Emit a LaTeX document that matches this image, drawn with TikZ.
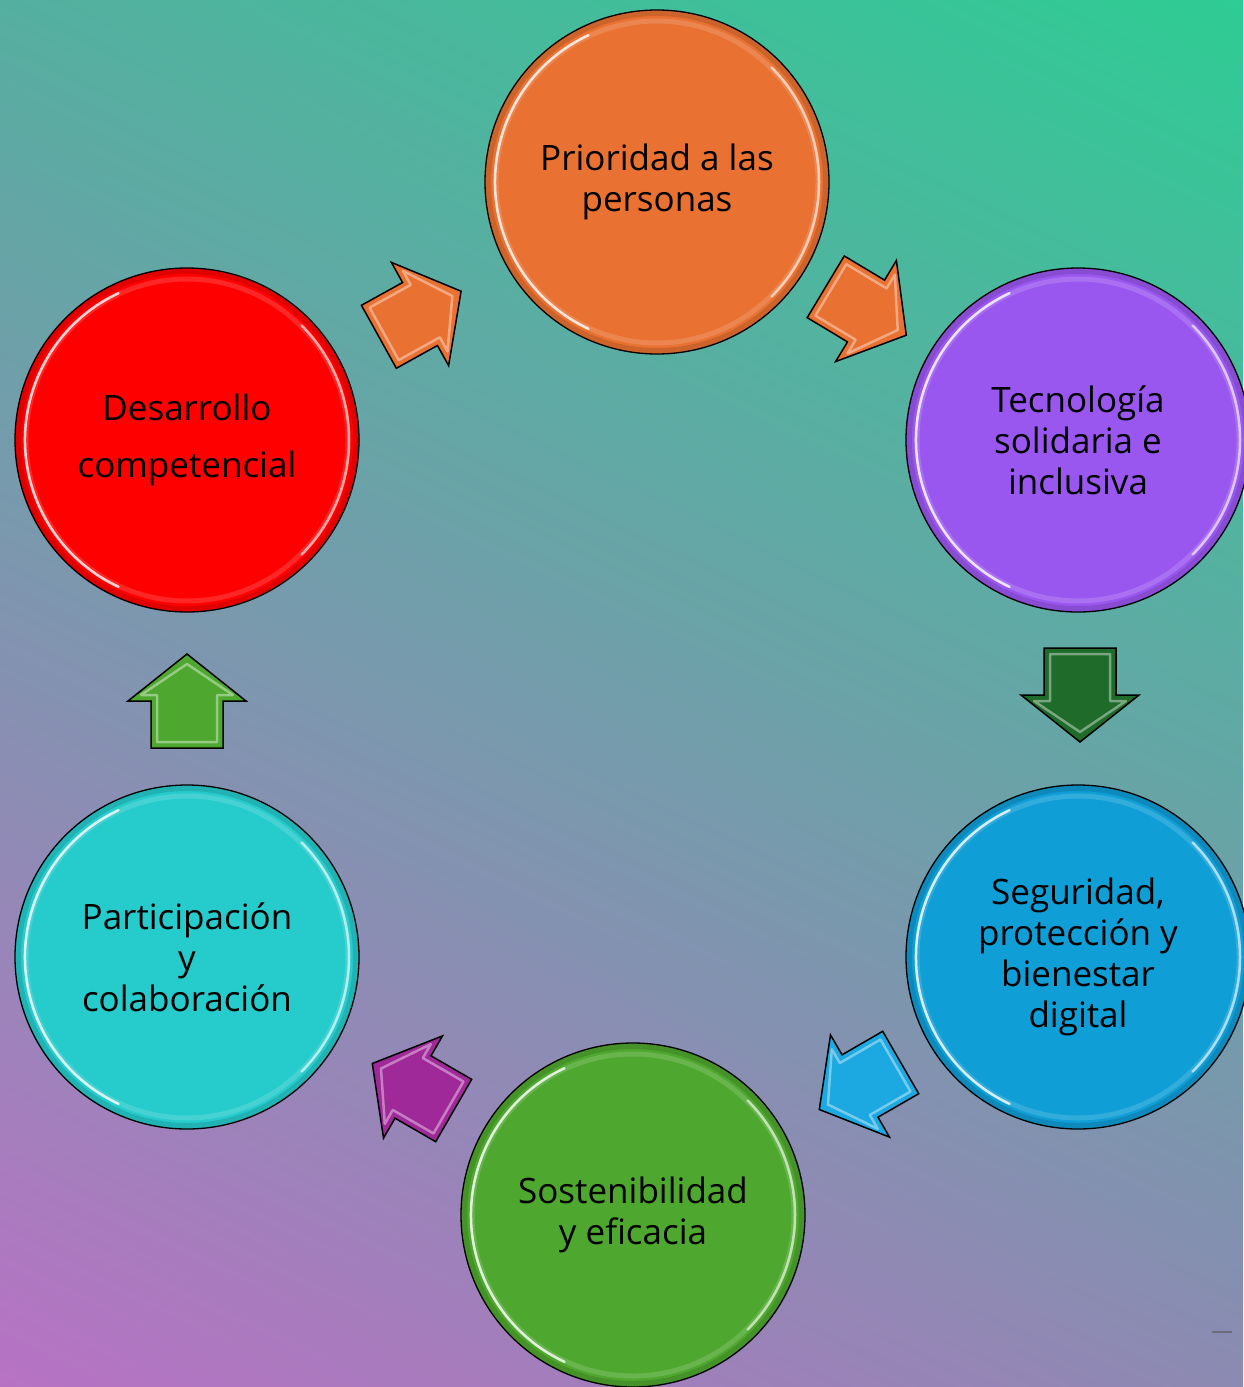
\documentclass[tikz,border=0pt]{standalone}
\usepackage{fontspec}
\setmainfont{Open Sans}
\usetikzlibrary{shadings}
\definecolor{cOrange}{HTML}{E97132}
\definecolor{cPurple}{HTML}{9A57F0}
\definecolor{cBlue}{HTML}{0F9ED5}
\definecolor{cGreen}{HTML}{4EA72E}
\definecolor{cCyan}{HTML}{26CBCC}
\definecolor{cRed}{HTML}{FF0000}
\definecolor{aDark}{HTML}{1E6B2A}
\definecolor{aBlue}{HTML}{1CA8E0}
\definecolor{aPurple}{HTML}{A0299A}
\definecolor{aLight}{HTML}{4EA72E}
\definecolor{bgUL}{HTML}{55AFA0}
\definecolor{bgUR}{HTML}{2ECC94}
\definecolor{bgLL}{HTML}{B872C4}
\definecolor{bgLR}{HTML}{8C8AB2}
\tikzset{
  ball/.style={circle, draw=black, line width=1.3pt, minimum size=344pt, inner sep=0pt,
    align=center, text=black, font=\fontsize{35}{41}\selectfont},
  rimdark/.style={black, opacity=0.12, line width=6pt},
  rimsoft/.style={white, opacity=0.15, line width=5pt},
  rimbright/.style={white, opacity=0.8, line width=2.5pt, line cap=round},
  arrowstyle/.style={draw=black, line width=1.5pt, line join=miter},
  blockarrow/.pic={
    \path[pic actions] (-47,-36) -- (0,-36) -- (0,-59) -- (47,0) -- (0,59) -- (0,36) -- (-47,36) -- cycle;
    \draw[white, opacity=0.4, line width=2.5pt, line join=round] (-41,-30) -- (6,-30) -- (6,-46) -- (37,0) -- (6,46) -- (6,30) -- (-41,30) -- cycle;
  }
}
\begin{document}
\begin{tikzpicture}[x=1pt, y=-1pt]
\useasboundingbox (0,0) rectangle (1243,1387);
\shade[upper left=bgUL, upper right=bgUR, lower left=bgLL, lower right=bgLR] (0,0) rectangle (1243,1387);

\node[ball, fill=cOrange] (prioridad) at (657,182) {Prioridad a las\\personas};
\node[ball, fill=cPurple] (tecnologia) at (1078,440) {Tecnología\\solidaria e\\inclusiva};
\node[ball, fill=cBlue] (seguridad) at (1078,957) {Seguridad,\\protección y\\bienestar\\digital};
\node[ball, fill=cGreen] (sostenibilidad) at (633,1215) {Sostenibilidad\\y eficacia};
\node[ball, fill=cCyan] (participacion) at (187,957) {Participación\\y\\colaboración};
\node[ball, fill=cRed] (desarrollo) at (187,440) {Desarrollo\\[16pt]competencial};

\foreach \n in {prioridad,tecnologia,seguridad,sostenibilidad,participacion,desarrollo}{
  \begin{scope}[shift={(\n.center)}]
    \draw[rimdark] (0,0) circle[radius=169pt];
    \draw[rimsoft] (0,0) circle[radius=161pt];
    \draw[rimbright] (115:162pt) arc[start angle=115, end angle=245, radius=162pt];
    \draw[rimbright, opacity=0.6] (-45:162pt) arc[start angle=-45, end angle=45, radius=162pt];
  \end{scope}
}

\pic[arrowstyle, fill=cOrange, rotate=29] (a1) at (420,314) {blockarrow};
\pic[arrowstyle, fill=cOrange, rotate=-31] (a2) at (866,311) {blockarrow};
\pic[arrowstyle, fill=aDark, rotate=-90] (a3) at (1080,695) {blockarrow};
\pic[arrowstyle, fill=aBlue, rotate=210] (a4) at (860,1086) {blockarrow};
\pic[arrowstyle, fill=aPurple, rotate=150] (a5) at (413,1087) {blockarrow};
\pic[arrowstyle, fill=aLight, rotate=90] (a6) at (187,701) {blockarrow};

\draw[gray!70!black, opacity=0.6, line width=1.5pt] (1212,1332) -- (1232,1332);
\end{tikzpicture}
\end{document}
